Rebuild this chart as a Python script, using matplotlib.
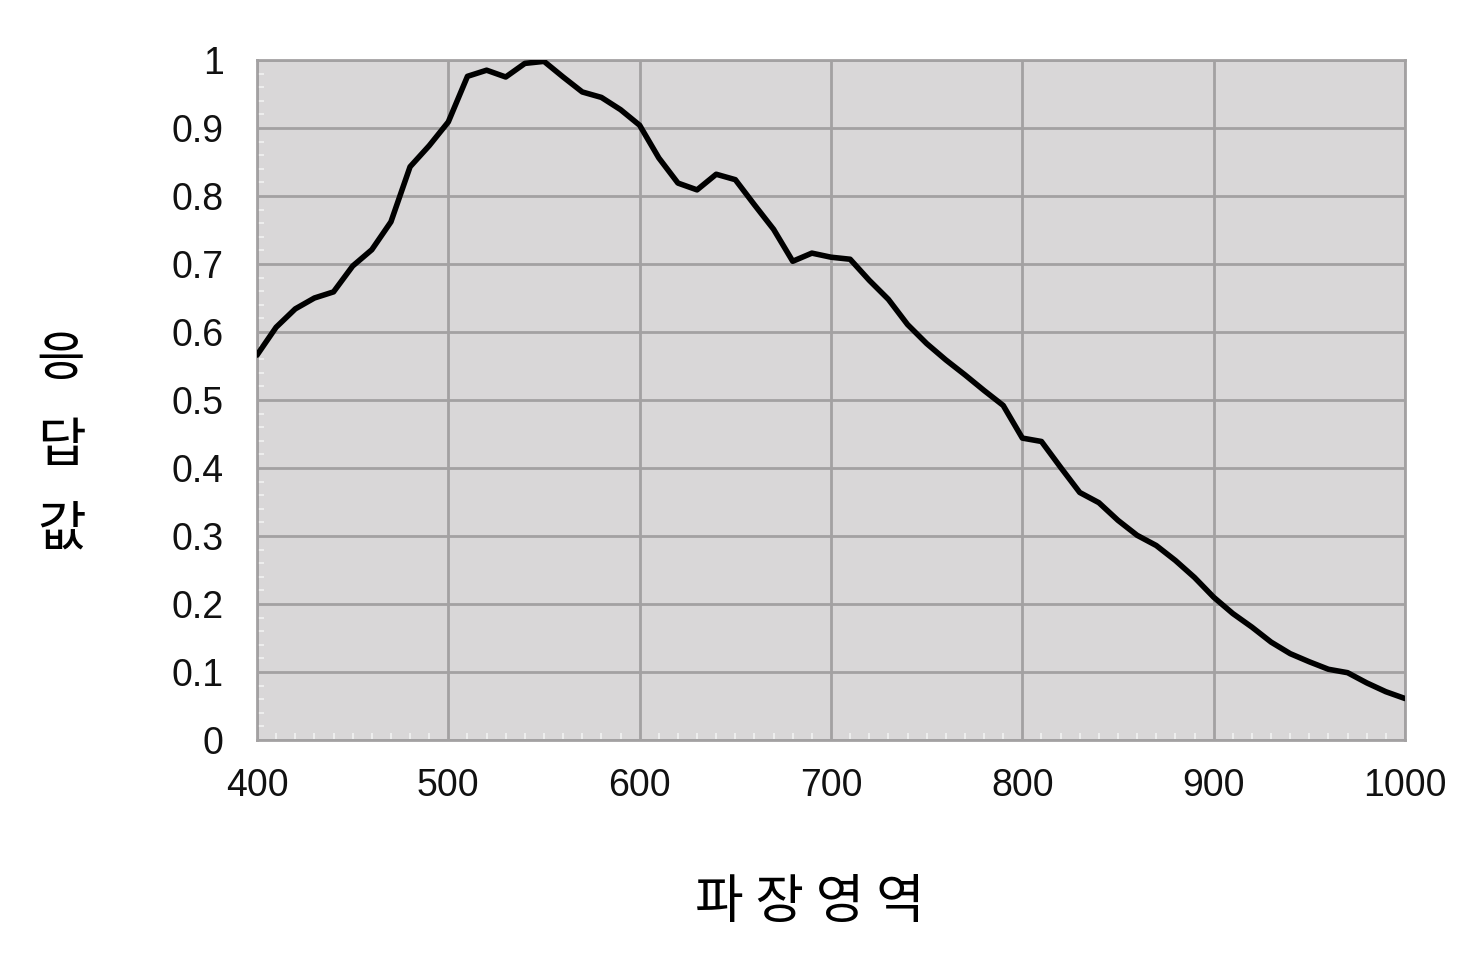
import matplotlib.pyplot as plt
from matplotlib.ticker import MultipleLocator

plt.rcParams['font.family'] = ['Liberation Sans', 'Noto Sans CJK KR', 'DejaVu Sans']

# ---- data ----
wavelength = [400, 410, 420, 430, 440, 450, 460, 470, 480, 490,
              500, 510, 520, 530, 540, 550, 560, 570, 580, 590,
              600, 610, 620, 630, 640, 650, 660, 670, 680, 690,
              700, 710, 720, 730, 740, 750, 760, 770, 780, 790,
              800, 810, 820, 830, 840, 850, 860, 870, 880, 890,
              900, 910, 920, 930, 940, 950, 960, 970, 980, 990, 1000]
response = [0.566, 0.607, 0.634, 0.650, 0.659, 0.697, 0.721, 0.762, 0.843, 0.874,
            0.909, 0.976, 0.985, 0.975, 0.995, 0.998, 0.975, 0.953, 0.945, 0.927,
            0.904, 0.856, 0.819, 0.809, 0.832, 0.824, 0.787, 0.751, 0.704, 0.716,
            0.710, 0.707, 0.676, 0.648, 0.611, 0.583, 0.559, 0.537, 0.514, 0.492,
            0.444, 0.439, 0.401, 0.364, 0.349, 0.323, 0.301, 0.286, 0.264, 0.239,
            0.210, 0.186, 0.166, 0.144, 0.127, 0.115, 0.104, 0.099, 0.084, 0.071, 0.061]

x_ticks = [400, 500, 600, 700, 800, 900, 1000]
y_ticks = [0, 0.1, 0.2, 0.3, 0.4, 0.5, 0.6, 0.7, 0.8, 0.9, 1]
y_tick_labels = ['0', '0.1', '0.2', '0.3', '0.4', '0.5', '0.6', '0.7', '0.8', '0.9', '1']

grid_col = '#a3a1a2'

fig = plt.figure(figsize=(14.83, 9.63), dpi=100)
ax = fig.add_axes([257 / 1483, 1 - 740 / 963, (1405 - 257) / 1483, (740 - 60) / 963])
ax.set_facecolor('#d9d7d8')

ax.plot(wavelength, response, color='black', lw=4.0, solid_joinstyle='round',
        solid_capstyle='round', zorder=3)

ax.set_xlim(400, 1000)
ax.set_ylim(0, 1)
ax.set_xticks(x_ticks)
ax.set_yticks(y_ticks)
ax.set_yticklabels(y_tick_labels)
ax.xaxis.set_minor_locator(MultipleLocator(10))
ax.yaxis.set_minor_locator(MultipleLocator(0.02))

ax.grid(True, which='major', color=grid_col, lw=2.0, zorder=1)
ax.set_axisbelow(True)
for s in ax.spines.values():
    s.set_color(grid_col)
    s.set_linewidth(2.0)

ax.tick_params(which='major', length=0, labelsize=27, colors='#111111')
ax.tick_params(axis='x', which='major', pad=20)
ax.tick_params(axis='y', which='major', pad=24)
ax.tick_params(which='minor', direction='in', length=5, width=1.2, color='#f2f2f2')

# axis titles
fig.text(61 / 1483, 1 - 445 / 963, '응\n답\n값', fontsize=38, ha='center', va='center',
         linespacing=1.7, family=['Noto Sans CJK KR', 'DejaVu Sans'])
fig.text(810 / 1483, 1 - 902 / 963, '파 장 영 역', fontsize=38, ha='center', va='center',
         family=['Noto Sans CJK KR', 'DejaVu Sans'])

fig.savefig('out.png', dpi=100, facecolor='white')
